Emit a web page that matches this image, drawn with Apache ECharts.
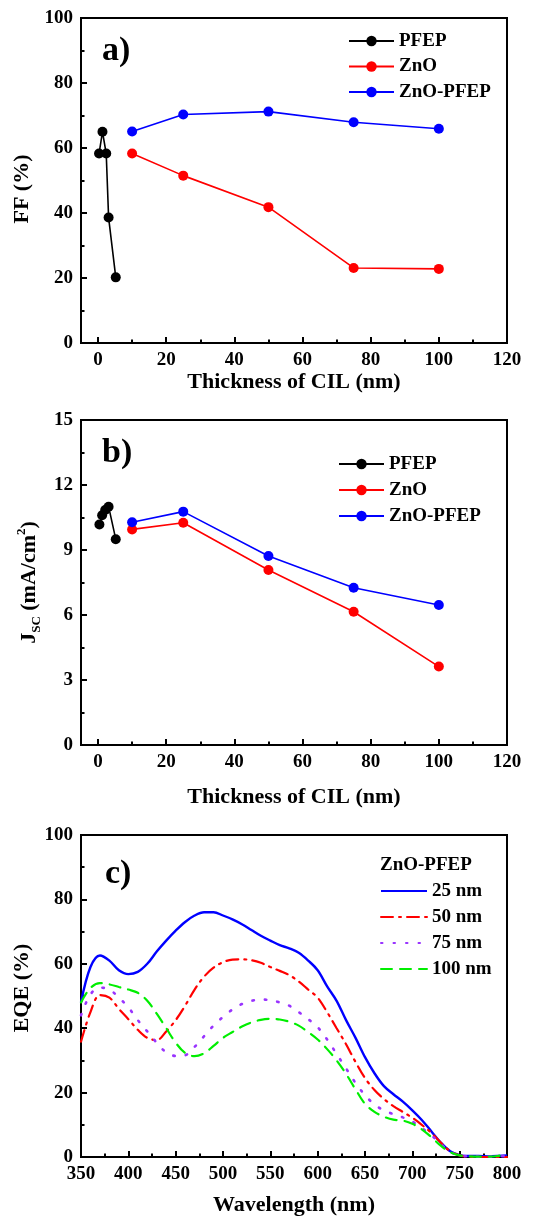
<!DOCTYPE html>
<html>
<head>
<meta charset="utf-8">
<script src="https://cdn.jsdelivr.net/npm/echarts@6/dist/echarts.min.js"></script>
<style>
  html, body { margin: 0; padding: 0; background: #fff; }
  #chart { width: 535px; height: 1217px; }
</style>
</head>
<body>
<div id="chart"></div>
<script>
// panel a / b : thickness of CIL (nm)
const pfepThickA = [0.3, 1.3, 2.4, 3.1, 5.2];
const pfepThickB = [0.4, 1.2, 2.1, 3.1, 5.2];
const znoThick = [10, 25, 50, 75, 100];

const ffPFEP = [58.3, 65.0, 58.3, 38.6, 20.2];
const ffZnO = [58.3, 51.5, 41.8, 23.1, 22.8];
const ffZnOPFEP = [65.1, 70.3, 71.2, 67.9, 65.9];

const jscPFEP = [10.18, 10.6, 10.85, 11.0, 9.5];
const jscZnO = [9.95, 10.26, 8.08, 6.15, 3.62];
const jscZnOPFEP = [10.28, 10.77, 8.72, 7.26, 6.46];

const thickTicks = [0, 20, 40, 60, 80, 100, 120];
const thickMinorTicks = [10, 30, 50, 70, 90, 110];

// panel c : EQE spectra
const wavelength = [350, 360, 370, 380, 390, 400, 410, 420, 430, 440, 450, 460, 470, 480, 490,
  500, 510, 520, 530, 540, 550, 560, 570, 580, 590, 600, 610, 620, 630, 640, 650, 660, 670,
  680, 690, 700, 710, 720, 730, 740, 750, 760, 770, 780, 790, 800];
const eqe25 = [48, 59, 62.6, 61, 58, 56.8, 57.5, 60, 63.8, 67.2, 70.3, 73, 75, 76, 76,
  75, 73.8, 72.3, 70.5, 68.7, 67.2, 65.8, 64.8, 63.4, 61, 58, 53, 48.5, 42.5, 37, 31, 26, 22,
  19.5, 17.2, 14.5, 11.5, 8, 4.5, 1.8, 0.6, 0.3, 0.3, 0.2, 0.3, 0.5];
const eqe50 = [35.8, 45, 50.3, 49.5, 46, 42.8, 39.5, 37, 36.3, 39, 42.5, 47, 52, 56, 58.8,
  60.5, 61.3, 61.4, 61.1, 60.3, 59, 57.8, 56.5, 54.5, 52, 49.5, 45, 40, 35, 29.5, 24.5, 20.8, 18,
  15.8, 14, 12.2, 10, 7.5, 4.5, 1.8, 0.5, 0.1, 0, 0, 0, 0];
const eqe75 = [44, 50.5, 52.6, 52, 49.5, 46.5, 42.5, 39, 35.5, 32.5, 31.4, 31.6, 34.2, 37.5, 40.8,
  43.5, 45.8, 47.5, 48.5, 48.9, 48.7, 48, 47, 45, 42.8, 40.3, 36.5, 32, 27.5, 23, 19.2, 16.3, 14.5,
  13.3, 12.3, 11, 9, 6.8, 4, 1.6, 0.5, 0.2, 0.1, 0.1, 0.2, 0.3];
const eqe100 = [48, 52.5, 54, 53.6, 52.8, 52, 51, 48.5, 44.5, 40, 35.5, 32.3, 31.3, 32.2, 34.5,
  37, 38.8, 40.5, 41.8, 42.6, 42.9, 42.7, 42, 40.8, 38.8, 36.5, 33.5, 30, 25.8, 21, 16.5, 14, 12.5,
  11.6, 11.3, 10.3, 8.6, 6.2, 3.5, 1.5, 0.5, 0.2, 0.1, 0.1, 0.3, 1];

const FONT = "'Liberation Serif', 'Times New Roman', serif";
const zip = (xs, ys) => xs.map((x, i) => [x, ys[i]]);

const tickFont = { color: '#000', fontFamily: FONT, fontWeight: 'bold', fontSize: 19 };
const nameFont = { color: '#000', fontFamily: FONT, fontWeight: 'bold', fontSize: 22 };
const blackLine = { onZero: false, lineStyle: { color: '#000', width: 2 } };

function thickAxis(gridIndex, nameGap) {
  return [
    {
      gridIndex, type: 'value', min: -5, max: 120, position: 'bottom',
      axisLine: blackLine,
      axisTick: { inside: true, length: 6, customValues: thickTicks, lineStyle: { color: '#000', width: 2 } },
      axisLabel: { customValues: thickTicks, margin: 8, ...tickFont },
      splitLine: { show: false },
      name: 'Thickness of CIL (nm)', nameLocation: 'middle', nameGap, nameTextStyle: nameFont,
    },
    {
      gridIndex, type: 'value', min: -5, max: 120, position: 'bottom',
      axisLine: { show: false, onZero: false },
      axisTick: { inside: true, length: 3.5, customValues: thickMinorTicks, lineStyle: { color: '#000', width: 2 } },
      axisLabel: { show: false },
      splitLine: { show: false },
    },
  ];
}

function valueAxis(gridIndex, max, interval, name, nameGap, namePadding) {
  return {
    gridIndex, type: 'value', min: 0, max, interval,
    axisLine: { show: true, ...blackLine },
    axisTick: { inside: true, length: 6, lineStyle: { color: '#000', width: 2 } },
    minorTick: { show: true, splitNumber: 2, length: 3.5, lineStyle: { color: '#000', width: 2 } },
    axisLabel: { margin: 8, ...tickFont },
    splitLine: { show: false },
    name, nameLocation: 'middle', nameGap, nameTextStyle: { ...nameFont, padding: namePadding },
  };
}

function pointSeries(name, color, data, xAxisIndex, yAxisIndex) {
  return {
    name, type: 'line', data, xAxisIndex, yAxisIndex,
    symbol: 'circle', symbolSize: 10, color,
    lineStyle: { width: 1.6, color }, itemStyle: { color },
  };
}

function eqeSeries(name, color, values, type, width) {
  return {
    name, type: 'line', data: zip(wavelength, values), xAxisIndex: 4, yAxisIndex: 2,
    smooth: 0.35, showSymbol: false, symbol: 'none', color,
    lineStyle: { width, color, type, cap: type === 'solid' ? 'butt' : 'round' },
  };
}

const legendText = { color: '#000', fontFamily: FONT, fontWeight: 'bold', fontSize: 19 };
const gridBox = { show: true, borderColor: '#000', borderWidth: 2, backgroundColor: 'transparent' };
const panelLabel = { fontFamily: FONT, fontWeight: 'bold', fontSize: 34, color: '#000' };

const chart = echarts.init(document.getElementById('chart'));
chart.setOption({
  animation: false,
  backgroundColor: '#fff',
  title: [
    { text: 'a)', left: 97, top: 29, textStyle: panelLabel },
    { text: 'b)', left: 97, top: 431, textStyle: panelLabel },
    { text: 'c)', left: 100, top: 852, textStyle: panelLabel },
    { text: 'ZnO-PFEP', left: 380, top: 856, padding: 0, textStyle: legendText },
  ],
  grid: [
    { left: 81, top: 18, width: 426, height: 325, ...gridBox },
    { left: 81, top: 420, width: 426, height: 325, ...gridBox },
    { left: 81, top: 835, width: 426, height: 324, ...gridBox },
  ],
  legend: [
    {
      data: ['PFEP', 'ZnO', 'ZnO-PFEP'], orient: 'vertical', left: 348, top: 31.5, padding: 0,
      itemWidth: 45, itemHeight: 13, itemGap: 6.5, textStyle: legendText,
    },
    {
      data: ['PFEP', 'ZnO', 'ZnO-PFEP'], orient: 'vertical', left: 338, top: 454.5, padding: 0,
      itemWidth: 45, itemHeight: 13, itemGap: 7, textStyle: legendText,
    },
    {
      data: ['25 nm', '50 nm', '75 nm', '100 nm'], orient: 'vertical', left: 380, top: 881.5, padding: 0,
      itemWidth: 46, itemHeight: 12, itemGap: 7, textStyle: legendText,
      itemStyle: { opacity: 0 },
    },
  ],
  xAxis: [
    ...thickAxis(0, 28),
    ...thickAxis(1, 41),
    {
      gridIndex: 2, type: 'value', min: 350, max: 800, interval: 50, position: 'bottom',
      axisLine: blackLine,
      axisTick: { inside: true, length: 6, lineStyle: { color: '#000', width: 2 } },
      minorTick: { show: true, splitNumber: 2, length: 3.5, lineStyle: { color: '#000', width: 2 } },
      axisLabel: { margin: 8, ...tickFont },
      splitLine: { show: false },
      name: 'Wavelength (nm)', nameLocation: 'middle', nameGap: 37, nameTextStyle: nameFont,
    },
  ],
  yAxis: [
    valueAxis(0, 100, 20, 'FF (%)', 43, [0, 17, 0, 0]),
    {
      ...valueAxis(1, 15, 3, '{m|J}{s|SC}{m| (mA/cm}{p|2}{m|)}', 36),
      nameTextStyle: {
        ...nameFont,
        rich: {
          m: { fontFamily: FONT, fontWeight: 'bold', fontSize: 22, color: '#000', lineHeight: 28 },
          s: { fontFamily: FONT, fontWeight: 'bold', fontSize: 13, color: '#000', lineHeight: 13, verticalAlign: 'bottom' },
          p: { fontFamily: FONT, fontWeight: 'bold', fontSize: 13, color: '#000', lineHeight: 13, verticalAlign: 'top' },
        },
      },
    },
    valueAxis(2, 100, 20, 'EQE (%)', 40, [0, 0, 0, 16]),
  ],
  series: [
    pointSeries('PFEP', '#000000', zip(pfepThickA, ffPFEP), 0, 0),
    pointSeries('ZnO', '#ff0000', zip(znoThick, ffZnO), 0, 0),
    pointSeries('ZnO-PFEP', '#0000ff', zip(znoThick, ffZnOPFEP), 0, 0),
    pointSeries('PFEP', '#000000', zip(pfepThickB, jscPFEP), 2, 1),
    pointSeries('ZnO', '#ff0000', zip(znoThick, jscZnO), 2, 1),
    pointSeries('ZnO-PFEP', '#0000ff', zip(znoThick, jscZnOPFEP), 2, 1),
    eqeSeries('25 nm', '#0000ff', eqe25, 'solid', 2.4),
    eqeSeries('50 nm', '#ff0000', eqe50, [12, 6, 2, 6], 2.2),
    eqeSeries('75 nm', '#9933ff', eqe75, [1.5, 11], 2.6),
    eqeSeries('100 nm', '#00ee00', eqe100, [11, 8], 2.2),
  ],
});
window.addEventListener('resize', () => chart.resize());
</script>
</body>
</html>
